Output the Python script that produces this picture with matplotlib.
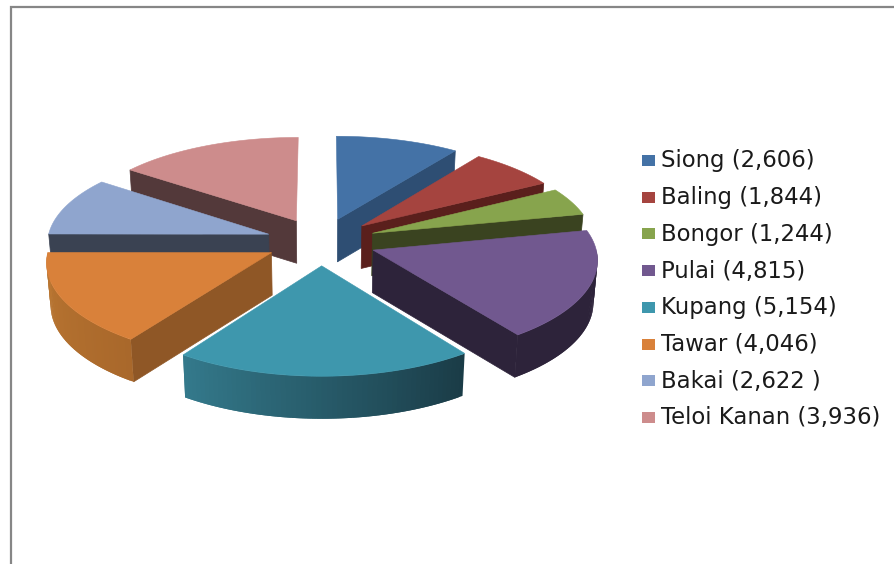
import numpy as np
from matplotlib import pyplot as plt
from matplotlib.colors import to_rgb
from matplotlib.patches import Polygon, Rectangle

plt.rcParams['font.family'] = ['DejaVu Sans']

names = ['Siong', 'Baling', 'Bongor', 'Pulai', 'Kupang', 'Tawar', 'Bakai', 'Teloi Kanan']
values = [2606, 1844, 1244, 4815, 5154, 4046, 2622, 3936]
labels = ['Siong (2,606)', 'Baling (1,844)', 'Bongor (1,244)', 'Pulai (4,815)',
          'Kupang (5,154)', 'Tawar (4,046)', 'Bakai (2,622 )', 'Teloi Kanan (3,936)']

top_colors = ['#4472a6', '#a5443f', '#87a44d', '#71588f', '#3e97ad', '#d9813a', '#8fa5ce', '#cd8c8c']
face_colors = ['#2e4e73', '#5a1f1c', '#3a4320', '#2d233a', '#1a3b46', '#8f5726', '#3a4252', '#53393a']
# rim shading, from the start angle to the end angle of each slice
rim_start = ['#2e4e73', '#5a1f1c', '#3a4320', '#2d233a', '#1a3b46', '#a9682b', '#3a4252', '#53393a']
rim_end = ['#2e4e73', '#5a1f1c', '#3a4320', '#2d233a', '#347a8c', '#bb7732', '#3a4252', '#53393a']

# 3d pie settings, all in pixels of the figure
cx, cy = 321, 241.5
sx, sy = 221.5, 95
kx, ky = 0.085, 0.095
explode = 0.25
depth = 42.5
shrink = 0.985


def project(theta, mid, low=False):
    t = np.radians(theta)
    m = np.radians(mid)
    X = np.sin(t) + explode * np.sin(m)
    Y = np.cos(t) + explode * np.cos(m)
    x = sx * X / (1 + kx * Y)
    y = cy - sy * Y / (1 + ky * Y)
    if low:
        return np.column_stack([cx + x * shrink, y + depth])
    return np.column_stack([cx + x, y])


def tip(mid, low=False):
    m = np.radians(mid)
    X = explode * np.sin(m)
    Y = explode * np.cos(m)
    x = sx * X / (1 + kx * Y)
    y = cy - sy * Y / (1 + ky * Y)
    if low:
        return np.array([[cx + x * shrink, y + depth]])
    return np.array([[cx + x, y]])


fig = plt.figure(figsize=(8.94, 5.64), dpi=100)
ax = fig.add_axes([0, 0, 1, 1])
ax.set_xlim(0, 894)
ax.set_ylim(564, 0)
ax.axis('off')

# chart area border, only top and left are in view
ax.plot([11, 11, 894], [564, 7, 7], color='#868686', lw=1.6, solid_joinstyle='miter')

edges = np.cumsum([0] + values) / sum(values) * 360
starts = edges[:-1]
ends = edges[1:]
mids = (starts + ends) / 2

# painter's order, back slices first
order = np.argsort(-np.cos(np.radians(mids)))
z = 2
for i in order:
    a, b, m = starts[i], ends[i], mids[i]

    # radial walls turned to the viewer
    for wall, sign in ((a, -1), (b, 1)):
        if sign * np.sin(np.radians(wall)) > 1e-6:
            pts = np.vstack([tip(m), project(wall, m), project(wall, m, True), tip(m, True)])
            ax.add_patch(Polygon(pts, closed=True, fc=face_colors[i], ec=face_colors[i], lw=0.5, zorder=z))

    # outer rim, front half only
    r0, r1 = max(a, 90), min(b, 270)
    if r1 > r0:
        steps = np.linspace(r0, r1, 60)
        c0, c1 = np.array(to_rgb(rim_start[i])), np.array(to_rgb(rim_end[i]))
        for t0, t1 in zip(steps[:-1], steps[1:]):
            f = ((t0 + t1) / 2 - a) / (b - a)
            col = c0 + (c1 - c0) * f
            # each strip runs on under the next one so no seams show
            pair = np.linspace(t0, min(t1 + (t1 - t0), r1), 3)
            pts = np.vstack([project(pair, m), project(pair[::-1], m, True)])
            ax.add_patch(Polygon(pts, closed=True, fc=col, ec='none', zorder=z))

    # top of the slice
    arc = project(np.linspace(a, b, 80), m)
    ax.add_patch(Polygon(np.vstack([tip(m), arc]), closed=True, fc=top_colors[i],
                         ec=top_colors[i], lw=0.4, zorder=z))
    z += 1

# legend
row_y = 160.5
row_h = 36.7
for i, lab in enumerate(labels):
    y = row_y + i * row_h
    ax.add_patch(Rectangle((642, y - 5.5), 13, 11, fc=top_colors[i], ec='none', zorder=20))
    ax.text(661, y + 0.5, lab, fontsize=16.4, color='#1a1a1a', va='center', ha='left', zorder=20)

plt.savefig('out.png', dpi=100)
